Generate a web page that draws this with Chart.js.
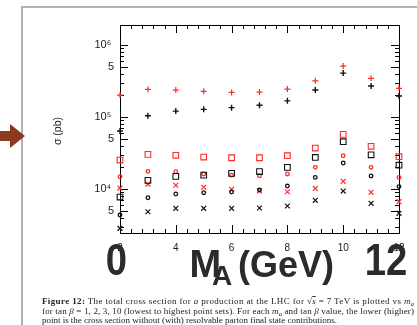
<!DOCTYPE html>
<html>
<head>
<meta charset="utf-8">
<script src="https://cdn.jsdelivr.net/npm/chart.js@4"></script>
<style>
  html, body { margin: 0; padding: 0; background: #fff; overflow: hidden; }
  #wrap { position: relative; width: 417px; height: 325px; }
  #xsec { position: absolute; left: 0; top: 0; }
  #overlay { position: absolute; left: 0; top: 0; pointer-events: none; }
</style>
</head>
<body>
<div id="wrap">
  <canvas id="xsec" width="417" height="325"></canvas>
  <svg id="overlay" width="417" height="325" xmlns="http://www.w3.org/2000/svg">
    <path d="M22,326 V7 H418" fill="none" stroke="#abb3af" stroke-width="2"/>
    <polygon points="0,131 10,131 10,124 25,136 10,148 10,141 0,141" fill="#8a3a1e"/>
    <text transform="translate(61,131) rotate(-90)" text-anchor="middle"
          font-family="Liberation Sans, Arial, sans-serif" font-size="10.5" fill="#222">σ (pb)</text>
    <g font-family="Liberation Sans, Arial, sans-serif" font-weight="bold" fill="#2b2b2b">
      <text transform="translate(116.5,275) scale(0.85,1)" text-anchor="middle" font-size="45">0</text>
      <text transform="translate(386,275) scale(0.85,1)" text-anchor="middle" font-size="45">12</text>
      <text x="189.5" y="277" font-size="38">M</text>
      <text x="212" y="285" font-size="28">A</text>
      <text x="238" y="277" font-size="36">(GeV)</text>
    </g>
    <g font-family="Liberation Serif, Times New Roman, serif" font-size="9" fill="#222">
      <text x="42" y="304" textLength="372" lengthAdjust="spacing"><tspan font-weight="bold">Figure 12:</tspan> The total cross section for <tspan font-style="italic">a</tspan> production at the LHC for √<tspan text-decoration="overline" font-style="italic">s</tspan> = 7 TeV is plotted vs <tspan font-style="italic">m</tspan><tspan font-style="italic" font-size="6.5" dy="1.5">a</tspan></text>
      <text x="42" y="314" textLength="372" lengthAdjust="spacing">for tan <tspan font-style="italic">β</tspan> = 1, 2, 3, 10 (lowest to highest point sets). For each <tspan font-style="italic">m</tspan><tspan font-style="italic" font-size="6.5" dy="1.5">a</tspan><tspan dy="-1.5"> and tan </tspan><tspan font-style="italic">β</tspan> value, the lower (higher)</text>
      <text x="42" y="323" textLength="295" lengthAdjust="spacing">point is the cross section without (with) resolvable parton final state contributions.</text>
    </g>
  </svg>
</div>
<script>
// pseudoscalar mass (GeV)
const massA = [2, 3, 4, 5, 6, 7, 8, 9, 10, 11, 12];

// cross sections in pb, "with" = including resolvable parton final states
const tb10With    = [2.02e5, 2.42e5, 2.37e5, 2.28e5, 2.20e5, 2.22e5, 2.45e5, 3.19e5, 5.11e5, 3.45e5, 2.51e5];
const tb10Without = [6.39e4, 1.04e5, 1.21e5, 1.28e5, 1.35e5, 1.46e5, 1.68e5, 2.37e5, 4.08e5, 2.70e5, 1.96e5];
const tb3With     = [2.53e4, 3.03e4, 2.94e4, 2.78e4, 2.72e4, 2.72e4, 2.90e4, 3.71e4, 5.75e4, 3.92e4, 2.81e4];
const tb3Without  = [7.74e3, 1.32e4, 1.50e4, 1.56e4, 1.65e4, 1.75e4, 2.00e4, 2.75e4, 4.54e4, 2.99e4, 2.14e4];
const tb2With     = [1.48e4, 1.76e4, 1.74e4, 1.62e4, 1.56e4, 1.53e4, 1.62e4, 2.00e4, 2.90e4, 2.00e4, 1.45e4];
const tb2Without  = [4.35e3, 7.57e3, 8.53e3, 8.89e3, 9.08e3, 9.68e3, 1.10e4, 1.45e4, 2.30e4, 1.52e4, 1.08e4];
const tb1With     = [1.03e4, 1.17e4, 1.13e4, 1.06e4, 9.90e3, 9.45e3, 9.17e3, 1.02e4, 1.28e4, 9.00e3, 6.67e3];
const tb1Without  = [2.84e3, 4.84e3, 5.39e3, 5.39e3, 5.39e3, 5.45e3, 5.81e3, 6.97e3, 9.37e3, 6.33e3, 4.60e3];

// labelled y ticks
const yTickValues = [5e3, 1e4, 5e4, 1e5, 5e5, 1e6];
const yTickLabels = ["5", "10⁴\u2005", "5", "10⁵\u2005", "5", "10⁶\u2005"];

const RED = "#ff2a2a";
const BLACK = "#111111";

function series(label, values, color, style, radius, width) {
  return {
    label,
    data: massA.map((m, i) => ({ x: m, y: values[i] })),
    pointStyle: style,
    pointRadius: radius,
    pointHoverRadius: radius,
    borderColor: color,
    backgroundColor: "rgba(0,0,0,0)",
    pointBorderWidth: width,
    showLine: false,
    clip: false
  };
}

// frame with inward-pointing major/minor ticks on all four sides
const frameTicks = {
  id: "frameTicks",
  beforeDatasetsDraw(chart) {
    const { ctx, chartArea: a, scales } = chart;
    const xs = scales.x, ys = scales.y;
    ctx.save();
    ctx.strokeStyle = "#000";
    ctx.lineWidth = 1;
    ctx.strokeRect(a.left + 0.5, a.top + 0.5, a.right - a.left, a.bottom - a.top);

    ctx.beginPath();
    for (let k = 3; k <= 6; k++) {
      for (let m = 1; m <= 9; m++) {
        const v = m * Math.pow(10, k);
        if (v < ys.min || v > ys.max) continue;
        const y = Math.round(ys.getPixelForValue(v)) + 0.5;
        const len = (m === 1 || m === 5) ? 8 : 4;
        ctx.moveTo(a.left, y); ctx.lineTo(a.left + len, y);
        ctx.moveTo(a.right, y); ctx.lineTo(a.right - len, y);
      }
    }
    for (let i = 0; i <= 25; i++) {
      const v = 2 + i * 0.4;
      const x = Math.round(xs.getPixelForValue(v)) + 0.5;
      const len = (i % 5 === 0) ? 8 : 4;
      ctx.moveTo(x, a.bottom); ctx.lineTo(x, a.bottom - len);
      ctx.moveTo(x, a.top); ctx.lineTo(x, a.top + len);
    }
    ctx.stroke();
    ctx.restore();
  }
};

new Chart(document.getElementById("xsec"), {
  type: "scatter",
  data: {
    datasets: [
      series("tanβ=10 with", tb10With, RED, "cross", 3, 1.2),
      series("tanβ=10 without", tb10Without, BLACK, "cross", 3, 1.4),
      series("tanβ=3 with", tb3With, RED, "rect", 4, 1.1),
      series("tanβ=3 without", tb3Without, BLACK, "rect", 4, 1.1),
      series("tanβ=2 with", tb2With, RED, "circle", 1.8, 1.3),
      series("tanβ=2 without", tb2Without, BLACK, "circle", 1.8, 1.3),
      series("tanβ=1 with", tb1With, RED, "crossRot", 3.4, 1.2),
      series("tanβ=1 without", tb1Without, BLACK, "crossRot", 3.4, 1.2)
    ]
  },
  options: {
    responsive: false,
    animation: false,
    devicePixelRatio: 1,
    layout: { padding: { top: 25, right: 18, left: 0, bottom: 0 } },
    plugins: { legend: { display: false }, tooltip: { enabled: false } },
    scales: {
      x: {
        type: "linear",
        min: 2,
        max: 12,
        grid: { display: false, drawTicks: false },
        border: { display: false },
        ticks: {
          stepSize: 2,
          padding: 9,
          color: "#222",
          font: { family: "Liberation Sans, Arial, sans-serif", size: 10 }
        },
        afterFit(scale) { scale.height = 92; }
      },
      y: {
        type: "logarithmic",
        min: 2450,
        max: 1.9e6,
        grid: { display: false, drawTicks: false },
        border: { display: false },
        afterBuildTicks(scale) {
          scale.ticks = yTickValues.map(v => ({ value: v }));
        },
        ticks: {
          padding: 6,
          color: "#222",
          font: { family: "Liberation Sans, DejaVu Sans, sans-serif", size: 11 },
          callback(value) {
            const i = yTickValues.indexOf(value);
            return i >= 0 ? yTickLabels[i] : "";
          }
        },
        afterFit(scale) { scale.width = 120; }
      }
    }
  },
  plugins: [frameTicks]
});
</script>
</body>
</html>
